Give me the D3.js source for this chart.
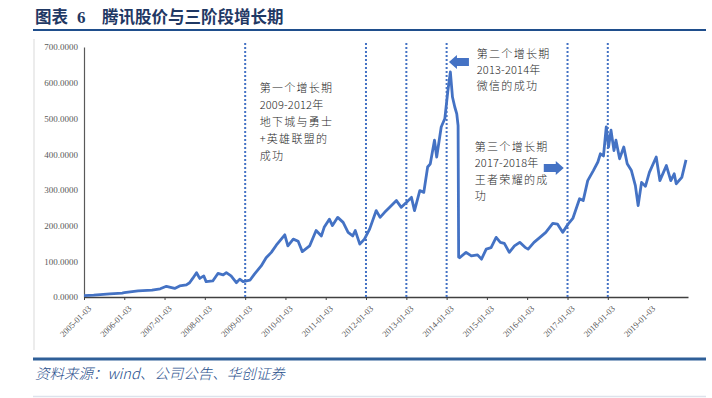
<!DOCTYPE html>
<html>
<head>
<meta charset="utf-8">
<script src="https://cdn.jsdelivr.net/npm/d3@7"></script>
<style>
    body { margin:0; background:#fff; }
    svg { display:block; }
</style>
</head>
<body>
<script>
// 腾讯控股收盘价 (港元), 读图估计
var dates = [
    "2005-01-03","2005-04-01","2005-08-25","2005-12-15","2006-01-03","2006-05-08","2006-09-12","2006-11-25",
    "2007-01-20","2007-04-05","2007-05-20","2007-07-20","2007-08-18","2007-09-15","2007-10-20","2007-11-18",
    "2007-12-25","2008-01-15","2008-03-15","2008-05-01","2008-06-18","2008-07-16","2008-08-28","2008-10-15",
    "2008-11-15","2008-12-15","2009-02-15","2009-03-28","2009-05-28","2009-07-12","2009-08-28","2009-10-12",
    "2009-12-28","2010-01-25","2010-03-15","2010-04-28","2010-06-05","2010-08-10","2010-10-08","2010-11-25",
    "2010-12-20","2011-02-05","2011-03-05","2011-04-22","2011-06-10","2011-07-25","2011-09-05","2011-09-28",
    "2011-11-08","2011-12-20","2012-02-05","2012-04-05","2012-05-10","2012-06-20","2012-08-05","2012-10-05",
    "2012-11-18","2013-01-05","2013-02-18","2013-03-18","2013-05-05","2013-06-10","2013-07-15","2013-08-08",
    "2013-09-15","2013-10-05","2013-11-15","2013-12-18","2014-01-15","2014-02-06","2014-02-25","2014-03-18",
    "2014-04-05","2014-04-17","2014-04-22","2014-05-01","2014-06-28","2014-08-15","2014-10-10","2014-11-15",
    "2014-12-28","2015-02-10","2015-03-28","2015-05-05","2015-06-10","2015-07-25","2015-09-10","2015-10-28",
    "2015-12-15","2016-01-12","2016-03-05","2016-04-28","2016-06-20","2016-08-22","2016-10-05","2016-11-20",
    "2017-01-08","2017-02-20","2017-04-22","2017-05-25","2017-07-05","2017-08-25","2017-10-05","2017-10-28",
    "2017-11-25","2017-12-20","2018-01-10","2018-02-01","2018-02-28","2018-03-18","2018-04-20","2018-05-28",
    "2018-06-28","2018-08-05","2018-09-10","2018-10-05","2018-11-05","2018-12-10","2019-01-15","2019-03-18",
    "2019-04-20","2019-06-18","2019-07-28","2019-08-28","2019-09-15","2019-11-05","2019-12-13"
];
var prices = [
    4,5,9,11,12,17,19,23,
    30,24,31,34,40,52,68,52,
    59,43,45,66,62,68,59,40,
    50,43,47,64,87,110,125,145,
    174,143,162,156,127,143,186,171,
    195,218,200,223,209,181,171,186,
    148,162,190,242,223,237,251,270,
    251,265,279,242,298,293,364,373,
    439,392,476,500,579,630,560,532,
    513,480,112,110,125,115,118,106,
    134,138,167,153,150,125,143,153,
    139,134,153,167,181,206,204,181,
    204,220,275,270,326,354,378,401,
    395,476,420,467,410,439,387,420,
    373,354,312,256,321,310,349,392,
    326,368,326,345,317,335,384
];

var yTicks = [0,100,200,300,400,500,600,700];
var xTickYears = [2005,2006,2007,2008,2009,2010,2011,2012,2013,2014,2015,2016,2017,2018,2019];
var markerDates = ["2009-01-03","2012-01-03","2013-01-03","2014-01-03","2017-01-03","2018-01-03"];

// 注释文字: 锚点(日期, 价格) + 行
var noteDates = ["2009-05-14","2014-10-03","2014-09-15"];
var noteValues = [585,680,420];
var noteLines = [
    ["第一个增长期","2009-2012年","地下城与勇士","+英雄联盟的","成功"],
    ["第二个增长期","2013-2014年","微信的成功"],
    ["第三个增长期","2017-2018年","王者荣耀的成","功"]
];
var noteLineHeight = [17.1,16,16.4];

// 箭头: 箭头尖端(日期, 价格), 方向
var arrowDates = ["2014-01-24","2016-11-30"];
var arrowValues = [658,361];
var arrowDirs = [-1,1];

var width = 712;
var height = 398;
var parse = d3.timeParse("%Y-%m-%d");

var svg = d3.select("body")
    .append("svg")
    .attr("width",width)
    .attr("height",height);

var marge = {top:47,bottom:101,left:84,right:24};

var x = d3.scaleTime()
    .domain([parse("2005-01-03"),parse("2019-12-31")])
    .range([marge.left,width-marge.right]);
var y = d3.scaleLinear()
    .domain([0,700])
    .range([height-marge.bottom,marge.top]);

var data = dates.map(function(d,i){
    return {date:parse(d),value:prices[i]};
});

// 外框
svg.append("line")
    .attr("x1",34).attr("x2",34)
    .attr("y1",39).attr("y2",350)
    .attr("stroke","#d9d9d9").attr("stroke-width",1);

svg.append("line")
    .attr("x1",33).attr("x2",706)
    .attr("y1",30).attr("y2",30)
    .attr("stroke","#1f4e8c").attr("stroke-width",2);

svg.append("line")
    .attr("x1",33).attr("x2",706)
    .attr("y1",359).attr("y2",359)
    .attr("stroke","#2f5f98").attr("stroke-width",3);

svg.append("line")
    .attr("x1",33).attr("x2",706)
    .attr("y1",396.5).attr("y2",396.5)
    .attr("stroke","#dde3ec").attr("stroke-width",1.5);

var title = svg.append("text")
    .attr("x",35)
    .attr("y",23)
    .attr("fill","#1f3864")
    .style("font-family","'Noto Sans CJK SC','Noto Sans',sans-serif")
    .style("font-weight","bold")
    .style("font-size","16.5px");
title.append("tspan").text("图表");
title.append("tspan").attr("x",77).style("font-family","'Liberation Serif',serif").style("font-size","17px").text("6");
title.append("tspan").attr("x",102).text("腾讯股价与三阶段增长期");

svg.append("text")
    .attr("x",35)
    .attr("y",379)
    .attr("fill","#1f4e8c")
    .style("font-family","'Noto Sans CJK SC',sans-serif")
    .style("font-style","italic")
    .style("font-size","14.5px")
    .style("font-weight","300")
    .text("资料来源：wind、公司公告、华创证券");

var g = svg.append("g");

// y 轴
var yAxis = d3.axisLeft(y)
    .tickValues(yTicks)
    .tickSize(0)
    .tickPadding(6)
    .tickFormat(d3.format(".4f"));
var gy = g.append("g")
    .attr("transform","translate("+marge.left+",0)")
    .call(yAxis);
gy.select(".domain").attr("stroke","#595959").attr("stroke-width",1.2);
gy.selectAll("text")
    .attr("fill","#595959")
    .style("font-family","'Liberation Serif',serif")
    .style("font-size","9px");

// x 轴
var xAxis = d3.axisBottom(x)
    .tickValues(xTickYears.map(function(yr){ return parse(yr+"-01-03"); }))
    .tickSizeInner(3)
    .tickSizeOuter(0)
    .tickFormat(d3.timeFormat("%Y-%m-%d"));
var gx = g.append("g")
    .attr("transform","translate(0,"+(height-marge.bottom)+")")
    .call(xAxis);
gx.select(".domain").attr("stroke","#404040").attr("stroke-width",1.5);
gx.selectAll(".tick line").attr("stroke","#404040").attr("stroke-width",1);
gx.selectAll("text")
    .attr("fill","#595959")
    .style("font-family","'Liberation Serif',serif")
    .style("font-size","8.6px")
    .attr("text-anchor","end")
    .attr("dx",0)
    .attr("dy",0)
    .attr("transform","translate(3,8) rotate(-45)");

// 阶段分隔虚线
g.append("g")
    .selectAll("line")
    .data(markerDates)
    .enter()
    .append("line")
    .attr("x1",function(d){ return x(parse(d)); })
    .attr("x2",function(d){ return x(parse(d)); })
    .attr("y1",y(0))
    .attr("y2",marge.top-5)
    .attr("stroke","#4472c4")
    .attr("stroke-width",2)
    .attr("stroke-dasharray","2,2");

// 股价线
var line = d3.line()
    .x(function(d){ return x(d.date); })
    .y(function(d){ return y(d.value); });

g.append("path")
    .datum(data)
    .attr("d",line)
    .attr("fill","none")
    .attr("stroke","#4472c4")
    .attr("stroke-width",2.8)
    .attr("stroke-linejoin","round");

// 注释
noteLines.forEach(function(lines,i){
    var tx = x(parse(noteDates[i]));
    var ty = y(noteValues[i]);
    lines.forEach(function(d,j){
        g.append("text")
            .attr("x",tx)
            .attr("y",ty+j*noteLineHeight[i]+4)
            .attr("fill","#262626")
            .style("font-family","'Noto Sans CJK SC',sans-serif")
            .style("font-size","11px")
            .style("letter-spacing",/^\d/.test(d) ? "0.2px" : "1.3px")
            .style("font-weight","300")
            .text(d);
    });
});

// 箭头
arrowDates.forEach(function(d,i){
    var ax = x(parse(d));
    var ay = y(arrowValues[i]);
    var dir = arrowDirs[i];
    var head = 8, shaft = 12, hh = 7, sh = 4;
    var pts = [
        [ax,ay],
        [ax-dir*head,ay-hh],
        [ax-dir*head,ay-sh],
        [ax-dir*(head+shaft),ay-sh],
        [ax-dir*(head+shaft),ay+sh],
        [ax-dir*head,ay+sh],
        [ax-dir*head,ay+hh]
    ];
    g.append("polygon")
        .attr("points",pts.map(function(p){ return p.join(","); }).join(" "))
        .attr("fill","#4472c4");
});
</script>
</body>
</html>
